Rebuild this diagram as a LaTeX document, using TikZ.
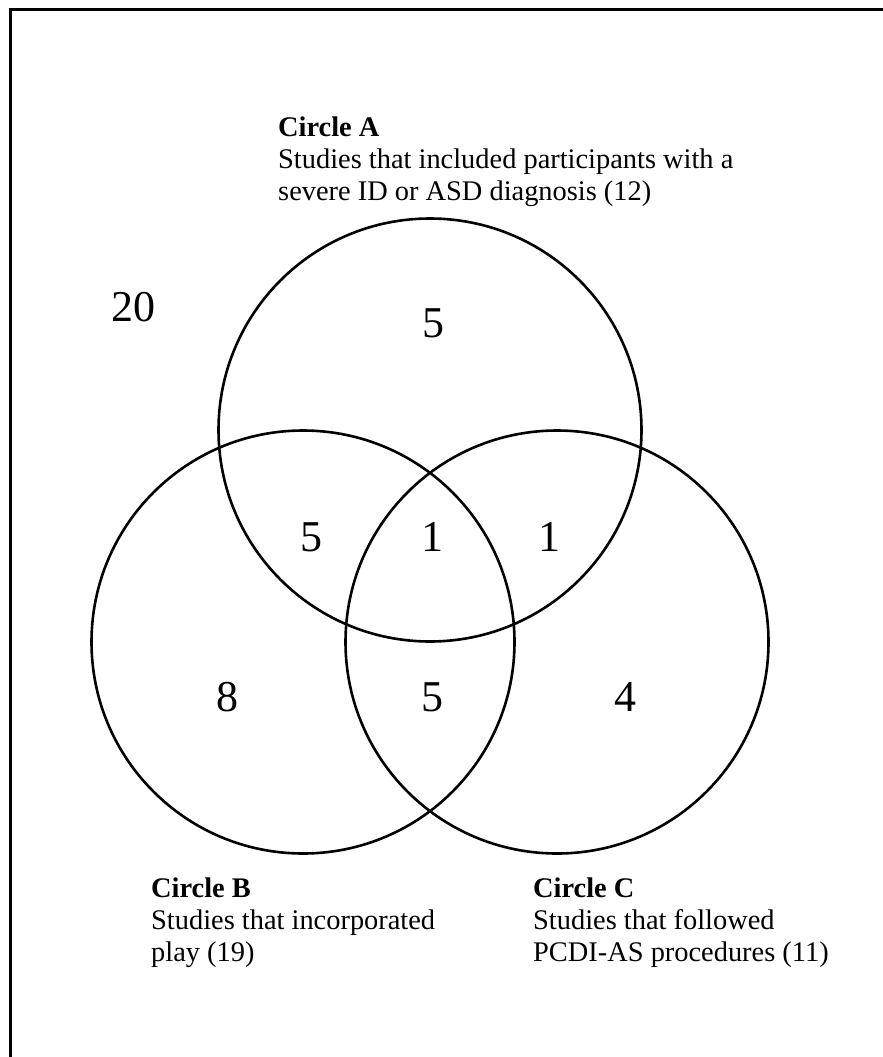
\documentclass[tikz,border=0pt]{standalone}
\usepackage{fontspec}
\setmainfont{Liberation Serif}
\begin{document}
\begin{tikzpicture}[x=1pt,y=-1pt,
  venn/.style={draw=black,line width=2.6pt},
  num/.style={font=\fontsize{44}{50}\selectfont,inner sep=0pt},
  lbl/.style={font=\fontsize{28.4}{32}\selectfont,align=left,anchor=base west,inner sep=0pt}]
\useasboundingbox (0,0) rectangle (883,1057);
\fill[white] (0,0) rectangle (883,1057);
\begin{scope}
\clip (0,0) rectangle (883,1057);
\draw[line width=3pt] (10,10) rectangle (920,1100);
\end{scope}
\node[venn,circle,minimum size=423pt,inner sep=0pt] (A) at (430,430) {};
\node[venn,circle,minimum size=423pt,inner sep=0pt] (B) at (303,642) {};
\node[venn,circle,minimum size=423pt,inner sep=0pt] (C) at (557,642) {};
\node[num] (n20) at (133,307) {20};
\node[num] (nA) at (433,323) {5};
\node[num] (nAB) at (311,537) {5};
\node[num] (nABC) at (432,537) {1};
\node[num] (nAC) at (549,537) {1};
\node[num] (nB) at (227,697) {8};
\node[num] (nBC) at (432,697) {5};
\node[num] (nC) at (625,697) {4};
\node[lbl] (labA) at (278,200) {\textbf{Circle A}\\Studies that included participants with a\\severe ID or ASD diagnosis (12)};
\node[lbl] (labB) at (151,961) {\textbf{Circle B}\\Studies that incorporated\\play (19)};
\node[lbl] (labC) at (533,961) {\textbf{Circle C}\\Studies that followed\\PCDI-AS procedures (11)};
\end{tikzpicture}
\end{document}
